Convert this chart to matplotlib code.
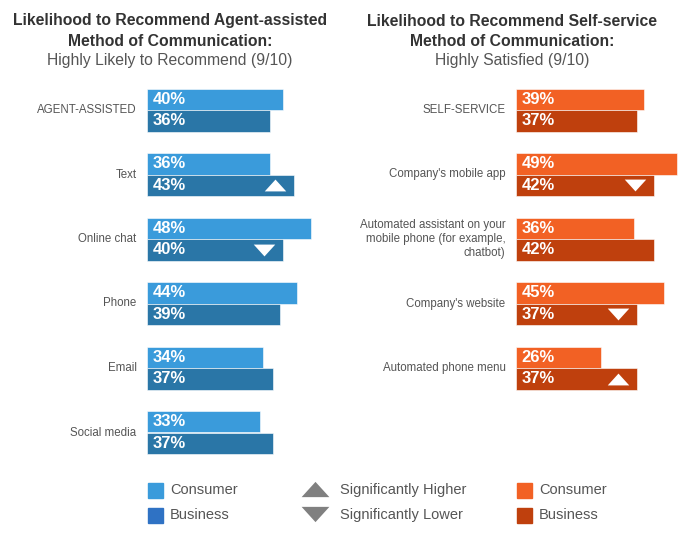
import matplotlib.pyplot as plt
import matplotlib.transforms as mtransforms
from matplotlib.patches import Rectangle
import numpy as np

plt.rcParams['font.family'] = ['Liberation Sans', 'DejaVu Sans']

# data
agent_labels = ["AGENT-ASSISTED", "Text", "Online chat", "Phone", "Email", "Social media"]
agent_consumer = [40, 36, 48, 44, 34, 33]
agent_business = [36, 43, 40, 39, 37, 37]
agent_sig = [None, "up", "down", None, None, None]

self_labels = ["SELF-SERVICE", "Company's mobile app",
               "Automated assistant on your\nmobile phone (for example,\nchatbot)",
               "Company's website", "Automated phone menu"]
self_consumer = [39, 49, 36, 45, 26]
self_business = [37, 42, 42, 37, 37]
self_sig = [None, "down", None, "down", "up"]

BLUE_C = "#3a9bdb"
BLUE_B = "#2a76a7"
BLUE_B_LEG = "#2f72c4"
ORANGE_C = "#f26124"
ORANGE_B = "#bf400d"
GREY_TXT = "#555555"
TITLE_TXT = "#333333"

W, H = 700, 537
fig = plt.figure(figsize=(W / 100, H / 100), dpi=100)

up_tri = [(-1, -0.55), (1, -0.55), (0, 0.55), (-1, -0.55)]
down_tri = [(-1, 0.55), (1, 0.55), (0, -0.55), (-1, 0.55)]

top_px, bot_px = 80, 460
row_px = 64.5
first_px = 110


def panel(left_px, px_per_pct, labels, cons, bus, sig, c_col, b_col):
    width_px = 50 * px_per_pct
    ax = fig.add_axes([left_px / W, 1 - bot_px / H, width_px / W, (bot_px - top_px) / H])
    ax.set_xlim(0, 50)
    ax.set_ylim((bot_px - first_px) / row_px, (top_px - first_px) / row_px)
    ax.axis("off")
    y = np.arange(len(labels))
    h = 21.5 / row_px
    ax.barh(y - h / 2, cons, height=h, color=c_col, edgecolor="#ffffff", linewidth=0.4)
    ax.barh(y + h / 2, bus, height=h, color=b_col, edgecolor="#ffffff", linewidth=0.4)
    for i in range(len(labels)):
        for yy, v in ((y[i] - h / 2, cons[i]), (y[i] + h / 2, bus[i])):
            ax.annotate(f"{v}%", (0, yy), xytext=(3.8, 0), textcoords="offset points",
                        ha="left", va="center", color="white", fontsize=12,
                        fontweight="bold")
        ax.annotate(labels[i], (0, y[i]), xytext=(-7.5, 0), textcoords="offset points",
                    ha="right", va="center", color=GREY_TXT, fontsize=8.3,
                    linespacing=1.2, multialignment="right")
        if sig[i] is not None:
            off = mtransforms.offset_copy(ax.transData, fig=fig, x=-19, y=0, units="dots")
            ax.plot(bus[i], y[i] + h / 2, transform=off, linestyle="none",
                    marker=up_tri if sig[i] == "up" else down_tri,
                    markersize=15.5, color="white", markeredgewidth=0)
    return ax


panel(147, 3.41, agent_labels, agent_consumer, agent_business, agent_sig, BLUE_C, BLUE_B)
panel(516, 3.28, self_labels, self_consumer, self_business, self_sig, ORANGE_C, ORANGE_B)

# titles
for cx, l1, l3 in ((170, "Likelihood to Recommend Agent-assisted",
                    "Highly Likely to Recommend (9/10)"),
                   (512, "Likelihood to Recommend Self-service",
                    "Highly Satisfied (9/10)")):
    fig.text(cx / W, 1 - 21 / H, l1, ha="center", va="center", fontsize=11.3,
             fontweight="bold", color=TITLE_TXT)
    fig.text(cx / W, 1 - 41 / H, "Method of Communication:", ha="center", va="center",
             fontsize=11.3, fontweight="bold", color=TITLE_TXT)
    fig.text(cx / W, 1 - 60 / H, l3, ha="center", va="center", fontsize=11.3,
             color=GREY_TXT)

# legend
lax = fig.add_axes([0, 0, 1, 1])
lax.set_xlim(0, W)
lax.set_ylim(H, 0)
lax.axis("off")
for x0, col, txt, yc in ((148, BLUE_C, "Consumer", 490), (148, BLUE_B_LEG, "Business", 515),
                         (517, ORANGE_C, "Consumer", 490), (517, ORANGE_B, "Business", 515)):
    lax.add_patch(Rectangle((x0, yc - 7.5), 15, 15, color=col))
    lax.text(x0 + 22, yc, txt, ha="left", va="center", fontsize=10.5, color=GREY_TXT)
lax.plot(315, 489, marker=up_tri, markersize=20, color="#808080", linestyle="none",
         markeredgewidth=0)
lax.plot(315, 514, marker=down_tri, markersize=20, color="#808080", linestyle="none",
         markeredgewidth=0)
lax.text(340, 490, "Significantly Higher", ha="left", va="center", fontsize=10.5, color=GREY_TXT)
lax.text(340, 515, "Significantly Lower", ha="left", va="center", fontsize=10.5, color=GREY_TXT)

fig.savefig("out.png", dpi=100)
